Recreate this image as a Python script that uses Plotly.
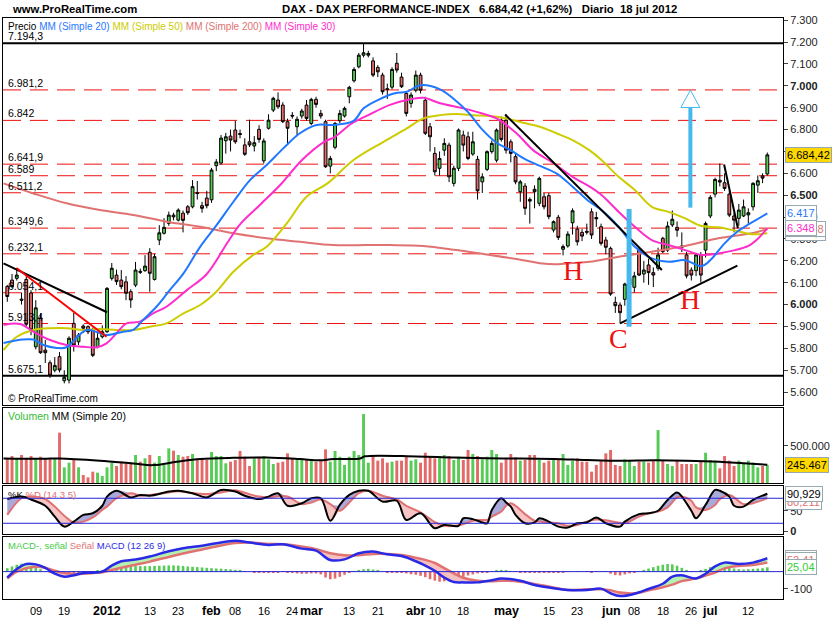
import plotly.graph_objects as go
from plotly.subplots import make_subplots

FONT = "Liberation Sans, Arial, sans-serif"
GREEN = "#56cc56"
RED = "#e46a6a"
CYAN = "#45b9ee"

# --- eje de tiempo (dias de negociacion 01 dic 2011 .. 18 jul 2012) ---
tick_pos = [6, 12, 21, 30, 36, 43, 48, 54, 60, 64, 72, 78, 86, 90, 96,
            105, 114, 120, 127, 132, 138, 144, 148, 156]
tick_text = ["09", "19", "<b>2012</b>", "13", "23", "<b>feb</b>", "08", "16", "24",
             "<b>mar</b>", "13", "21", "<b>abr</b>", "10", "18", "<b>may</b>", "15",
             "23", "<b>jun</b>", "08", "18", "26", "<b>jul</b>", "12"]

# --- precios DAX diarios ---
opens = [6083, 6112, 6120, 6025, 6115, 6053, 5807, 5939, 5792, 5734,
         5700, 5762, 5652, 5655, 5914, 5830, 5902, 5899, 5884, 5807,
         5853, 5876, 6120, 6135, 6112, 6104, 6059, 6089, 6152, 6155,
         6239, 6115, 6295, 6326, 6371, 6409, 6386, 6418, 6447, 6447,
         6512, 6452, 6487, 6479, 6635, 6647, 6749, 6770, 6798, 6782,
         6730, 6744, 6725, 6801, 6657, 6806, 6889, 6935, 6912, 6836,
         6865, 6813, 6862, 6912, 6828, 6938, 6874, 6836, 6633, 6719,
         6840, 6862, 6950, 7023, 7087, 7140, 7140, 7114, 7084, 7049,
         6987, 6994, 7103, 7040, 6965, 6920, 6980, 7049, 6934, 6813,
         6691, 6623, 6706, 6729, 6554, 6623, 6775, 6767, 6688, 6664,
         6561, 6618, 6699, 6660, 6843, 6843, 6744, 6676, 6516, 6542,
         6481, 6527, 6463, 6493, 6498, 6341, 6399, 6253, 6268, 6374,
         6345, 6330, 6335, 6424, 6398, 6356, 6295, 6257, 6010, 5998,
         6024, 6090, 6079, 6249, 6140, 6181, 6146, 6166, 6303, 6249,
         6364, 6353, 6268, 6227, 6158, 6155, 6227, 6249, 6405, 6505,
         6568, 6557, 6505, 6405, 6394, 6405, 6410, 6447, 6546, 6588,
         6597]
highs = [6090, 6140, 6168, 6055, 6135, 6066, 6020, 5960, 5838, 5745,
         5760, 5783, 5700, 5855, 5963, 5870, 5910, 5905, 5895, 5870,
         5905, 6080, 6190, 6160, 6158, 6130, 6070, 6195, 6165, 6226,
         6258, 6232, 6363, 6395, 6425, 6420, 6440, 6430, 6455, 6569,
         6565, 6470, 6520, 6625, 6665, 6775, 6785, 6800, 6840, 6800,
         6760, 6845, 6770, 6820, 6760, 6870, 6950, 6970, 6925, 6850,
         6880, 6860, 6895, 6935, 6945, 6950, 6890, 6845, 6680, 6835,
         6890, 6905, 7000, 7085, 7150, 7194, 7160, 7130, 7095, 7060,
         7010, 7085, 7150, 7060, 6975, 6970, 7070, 7060, 6950, 6830,
         6720, 6700, 6760, 6740, 6635, 6805, 6795, 6790, 6790, 6680,
         6600, 6705, 6750, 6805, 6860, 6870, 6755, 6690, 6570, 6555,
         6490, 6545, 6585, 6510, 6510, 6385, 6410, 6275, 6335, 6440,
         6360, 6345, 6370, 6440, 6424, 6370, 6310, 6265, 6036, 6010,
         6100, 6160, 6150, 6260, 6200, 6210, 6170, 6260, 6310, 6380,
         6430, 6380, 6330, 6240, 6170, 6235, 6240, 6380, 6500, 6580,
         6645, 6600, 6520, 6420, 6460, 6480, 6440, 6560, 6590, 6600,
         6695]
lows = [6013, 6075, 6110, 6000, 5900, 5860, 5795, 5775, 5733, 5665,
        5690, 5690, 5640, 5640, 5785, 5815, 5870, 5865, 5760, 5800,
        5845, 5870, 6110, 6090, 6070, 6020, 5985, 6080, 6140, 6150,
        6059, 6110, 6272, 6320, 6360, 6385, 6380, 6330, 6410, 6440,
        6480, 6420, 6440, 6465, 6610, 6640, 6690, 6700, 6735, 6760,
        6680, 6720, 6700, 6740, 6645, 6800, 6880, 6895, 6830, 6730,
        6850, 6770, 6850, 6840, 6820, 6900, 6850, 6625, 6600, 6710,
        6830, 6855, 6920, 7015, 7080, 7130, 7130, 7040, 7040, 6960,
        6940, 6985, 7060, 6990, 6860, 6900, 6970, 6965, 6775, 6700,
        6590, 6590, 6680, 6560, 6540, 6610, 6700, 6660, 6680, 6480,
        6510, 6610, 6690, 6650, 6745, 6690, 6650, 6550, 6470, 6410,
        6370, 6440, 6450, 6435, 6390, 6330, 6295, 6225, 6260, 6320,
        6270, 6290, 6320, 6300, 6355, 6270, 6230, 6040, 5962, 5914,
        5995, 6080, 6055, 6130, 6100, 6090, 6080, 6155, 6235, 6240,
        6355, 6310, 6240, 6120, 6110, 6130, 6100, 6215, 6395, 6490,
        6540, 6520, 6400, 6330, 6360, 6400, 6370, 6430, 6510, 6555,
        6590]
closes = [6037, 6082, 6135, 6020, 5910, 5884, 5985, 5780, 5780, 5677,
          5722, 5701, 5668, 5846, 5815, 5861, 5892, 5876, 5768, 5846,
          5876, 6074, 6166, 6105, 6082, 6052, 6021, 6158, 6148, 6176,
          6143, 6219, 6328, 6353, 6409, 6401, 6432, 6385, 6420, 6539,
          6508, 6440, 6452, 6615, 6652, 6761, 6767, 6752, 6744, 6778,
          6687, 6730, 6740, 6755, 6748, 6843, 6943, 6904, 6836, 6806,
          6862, 6847, 6885, 6851, 6938, 6915, 6862, 6630, 6668, 6828,
          6874, 6897, 6993, 7075, 7140, 7151, 7148, 7049, 7064, 6973,
          6983, 7075, 7072, 6996, 6874, 6958, 7049, 6980, 6783, 6767,
          6607, 6668, 6737, 6584, 6623, 6798, 6729, 6668, 6744, 6520,
          6584, 6699, 6737, 6798, 6755, 6706, 6691, 6561, 6561, 6440,
          6473, 6516, 6577, 6447, 6402, 6379, 6307, 6265, 6322, 6429,
          6287, 6313, 6331, 6318, 6392, 6280, 6262, 6048, 5995, 5963,
          6094, 6120, 6131, 6135, 6158, 6146, 6135, 6227, 6242, 6359,
          6390, 6340, 6262, 6131, 6135, 6227, 6135, 6371, 6490, 6572,
          6560, 6531, 6409, 6386, 6432, 6447, 6420, 6554, 6566, 6578,
          6684.42]

# --- volumen (miles) ---
volumes = [331, 362, 331, 376, 331, 362, 331, 353, 331, 331,
           331, 676, 210, 273, 309, 210, 107, 76, 152, 139,
           94, 210, 273, 228, 286, 264, 264, 376, 286, 331,
           376, 273, 362, 242, 465, 434, 376, 353, 362, 389,
           318, 331, 309, 416, 362, 362, 264, 286, 309, 430,
           353, 228, 331, 353, 362, 318, 255, 273, 286, 398,
           331, 318, 331, 318, 300, 286, 295, 452, 286, 430,
           353, 242, 353, 430, 376, 926, 273, 353, 300, 331,
           273, 286, 300, 300, 353, 300, 318, 273, 407, 353,
           331, 353, 376, 362, 309, 353, 309, 443, 389, 362,
           318, 353, 443, 389, 273, 318, 389, 345, 300, 309,
           376, 376, 309, 273, 300, 331, 318, 389, 242, 300,
           331, 286, 286, 152, 242, 300, 398, 443, 242, 228,
           318, 300, 228, 286, 286, 273, 300, 711, 300, 255,
           228, 300, 255, 255, 255, 255, 300, 407, 309, 300,
           197, 362, 300, 228, 300, 255, 300, 273, 210, 228,
           242]
vol_ma_x = [-0.8, 7.6, 11, 19.5, 26.5, 30.7, 35.7, 40.6, 47.6, 54.6, 61.6, 65.8,
            68.6, 74.3, 75.3, 86.2, 93.9, 104.4, 115, 122, 129, 136, 143, 150, 155, 160]
vol_ma = [330, 325, 330, 300, 262, 240, 285, 322, 338, 342, 322, 305,
          322, 330, 358, 356, 342, 330, 322, 308, 298, 305, 300, 285, 265, 245.467]

# --- medias moviles sobre el precio ---
ma20_x = [-0.8, 3, 5.5, 7.6, 10.4, 12.5, 14.6, 16.7, 18.8, 20.9, 24.4, 26.5, 28.6,
          31.4, 34.2, 37.1, 40.6, 44.1, 47.6, 51.1, 54.6, 58.1, 61.6, 65.1, 68.6,
          72.9, 75, 78, 81.6, 84.1, 87, 91, 94, 97, 100, 103, 106, 109, 112, 115.6,
          119, 122.6, 125.1, 128.7, 132.1, 135.7, 139.2, 142.7, 146.2, 148.3, 151,
          153.8, 156.4, 160]
ma20 = [5824, 5840, 5840, 5815, 5802, 5805, 5850, 5884, 5875, 5861, 5876, 5884, 5930,
        5990, 6066, 6143, 6264, 6364, 6470, 6569, 6638, 6714, 6783, 6821, 6821,
        6840, 6897, 6935, 6966, 6973, 7003, 6985, 6940, 6880, 6800, 6740, 6705, 6665,
        6635, 6600, 6539, 6470, 6432, 6356, 6264, 6211, 6196, 6203, 6176, 6210, 6280,
        6335, 6371, 6417]
ma30_x = [-0.8, 2.7, 5.5, 9, 12.5, 16, 18.8, 20.9, 23, 25.1, 27.9, 30.7, 33.5, 37.8,
          42, 46.4, 49, 53.4, 57.6, 62, 66.7, 69, 72.5, 76, 80.4, 84.1, 87.6, 91.1,
          96, 98.8, 103, 107.2, 110.7, 115, 119, 122.6, 125.1, 128.7, 132.1, 135.7,
          139.2, 142.7, 146.2, 149.7, 153.2, 156, 158.1, 160]
ma30 = [5907, 5911, 5876, 5838, 5815, 5807, 5805, 5823, 5869, 5914, 5922, 5960, 5990,
        6066, 6140, 6285, 6367, 6460, 6550, 6660, 6744, 6767, 6828, 6866, 6912, 6935,
        6945, 6920, 6897, 6881, 6851, 6783, 6706, 6646, 6584, 6539, 6501, 6424, 6356,
        6295, 6272, 6249, 6227, 6234, 6249, 6268, 6303, 6348]
ma50_x = [-0.8, 2, 5.5, 9, 12.5, 16, 19.5, 23, 26.5, 30, 33.5, 37.1, 40.6, 44, 47.6,
          51.8, 54.6, 58.8, 63, 67.4, 72.9, 79.2, 84.1, 87.6, 91.1, 94.6, 98.1, 101.6,
          105.1, 108.6, 112.1, 115.6, 119, 122.6, 125.1, 128.7, 132.1, 135.7, 139.2,
          142.7, 146.2, 149.7, 153.2, 156.7, 160]
ma50 = [5792, 5853, 5884, 5892, 5892, 5884, 5888, 5884, 5884, 5899, 5914, 5960, 5998,
        6059, 6150, 6227, 6264, 6370, 6493, 6554, 6661, 6744, 6805, 6851, 6866, 6871,
        6866, 6862, 6851, 6831, 6813, 6783, 6752, 6705, 6661, 6584, 6524, 6447, 6424,
        6394, 6359, 6353, 6338, 6322, 6326]
ma200_x = [-0.8, 5.5, 12.5, 19.5, 26.5, 33.5, 40.6, 47.6, 54.6, 61.6, 68.6, 75.7,
           80.6, 87.6, 94.6, 101.6, 108.6, 112.1, 115.6, 119, 122.6, 128.7, 135.7,
           142.7, 149.7, 156.7, 160]
ma200 = [6554, 6508, 6463, 6432, 6410, 6379, 6356, 6326, 6303, 6287, 6272, 6272,
         6272, 6268, 6249, 6227, 6203, 6189, 6184, 6190, 6196, 6219, 6242, 6268,
         6303, 6326, 6345.8]

# --- niveles horizontales ---
red_levels = [6981.2, 6842, 6641.9, 6589, 6511.2, 6349.6, 6232.1, 6054.1, 5913.4]
black_levels = [7194.3, 5675.1]

# lineas de tendencia: (dia0, precio0, dia1, precio1, color)
trend_lines = [(-0.8, 6188, 21.0, 5965, "black"),
               (2.0, 6166, 20.9, 5853, "red"),
               (104.8, 6869, 137.8, 6158, "black"),
               (129.0, 5914, 153.7, 6178, "black"),
               (150.9, 6640, 153.8, 6349, "black")]
marks = [(119, 6158, "H"), (143.7, 6025, "H"), (128.6, 5847, "C")]
cyan_bar = (130.9, 5899, 6437)
cyan_arrow = (143.8, 6443, 6901, 6980, 2.0)

# --- estocastico (14 3 5) ---
stoch_x = [0, 3, 5, 8, 10, 12, 14, 16, 18, 20, 21, 23, 26, 28, 30, 34, 36, 39, 42, 45,
           48, 50, 53, 55, 57, 59, 62, 64, 66, 68, 70, 72, 74, 76, 79, 82, 84, 87, 90,
           92, 95, 96, 98, 100, 101, 102, 104, 105, 106, 107, 109, 111, 112, 114, 116,
           118, 120, 122, 124, 126, 129, 130, 133, 135, 137, 139, 141, 142, 144, 145,
           147, 149, 150, 152, 153, 155, 157, 160]
stoch_k = [78, 84, 77, 62, 36, 12, 24, 40, 44, 62, 84, 98, 82, 88, 86, 96, 98, 92, 82, 100,
           96, 86, 78, 84, 92, 62, 68, 80, 80, 26, 64, 88, 98, 98, 72, 74, 28, 44, 8,
           16, 14, 32, 30, 22, 20, 52, 80, 70, 60, 40, 20, 22, 32, 24, 12,
           10, 20, 22, 34, 20, 12, 24, 42, 44, 50, 76, 94, 84, 50, 32,
           64, 100, 98, 84, 62, 60, 76, 90.929]
stoch_d = [40, 80, 84, 78, 60, 38, 22, 24, 34, 52, 60, 80, 92, 86, 88, 94, 97, 92, 90, 94,
           99, 93, 84, 82, 85, 84, 66, 70, 77, 66, 50, 70, 92, 98, 86, 77, 62, 46, 23,
           14, 15, 18, 26, 28, 28, 36, 48, 62, 68, 62, 42, 26, 24, 22, 20,
           14, 16, 24, 29, 27, 21, 20, 36, 44, 48, 58, 82, 84, 74, 58,
           52, 64, 78, 88, 82, 66, 68, 80.211]

# --- MACD (12 26 9) ---
macd_x = [0, 2, 4, 6, 8, 10, 12, 14, 16, 18, 20, 22, 24, 27, 30, 34, 37, 41, 44, 48,
          51, 55, 58, 62, 65, 68, 71, 74, 77, 80, 83, 86, 88, 90, 92, 94, 96, 99, 102,
          104, 108, 111, 115, 118, 122, 125, 127, 129, 132, 135, 138, 140, 142, 145,
          147, 149, 151, 154, 157, 160]
macd_line = [-35, 15, 44, 42, 22, -12, -29, -21, -8, -6, 0, 35, 60, 70, 87, 118, 135,
             150, 164, 178, 168, 154, 158, 133, 121, 67, 71, 106, 116, 100, 90, 60, 35,
             5, -35, -60, -62, -62, -50, -40, -53, -77, -96, -106, -106, -98, -125,
             -141, -128, -100, -70, -29, -21, -39, -12, 30, 52, 44, 52, 77.45]
macd_signal = [-40, 0, 20, 28, 22, 5, -8, -13, -12, -8, -3, 10, 22, 40, 58, 85, 105,
               128, 145, 165, 168, 160, 158, 145, 130, 106, 94, 95, 102, 102, 96, 80,
               68, 50, 20, -10, -35, -52, -56, -52, -58, -71, -91, -106, -102, -102,
               -108, -121, -125, -108, -90, -75, -55, -39, -22, -5, 19, 33, 39, 52.41]
macd_hist = [20, 30, 40, 46, 44, 36, 26, 14, 2, -8, -14, -18,
             -20, -14, -8, -4, -2, 0, 3, 5, 8,
             15, 22, 25, 28, 30, 32, 32, 32, 32,
             32, 33, 34, 35, 36, 36, 35, 33, 30, 28, 26,
             24, 22, 20, 18, 17, 15, 13, 10, 6, 2,
             0, -3, -6, -8, -8, -6, -3, -1,
             -5, -8, -10, -12, -12, -10, -10, -16, -34,
             -44, -40, -30, -18, -8, 2,
             10, 14, 16, 12, 6, 0, -3,
             -4, -5, -6, -10, -15, -18, -24,
             -32, -44, -52, -58, -56, -50, -44, -38,
             -30, -22, -16, -10, -6, -3, 2, 8, 10,
             6, 2, -2, -6, -8, -8,
             -8, -8, -6, -6, -5, -5, -3, -2,
             0, 2, 0, -2, -3, -2, 3, 2,
             -12, -20, -22, -16, -10, -4, 2,
             10, 18, 26, 34, 40, 44, 42, 34,
             22, 10, 2, 0, 6, 16, 26,
             32, 34, 30, 24, 18, 14, 12,
             14, 16, 18, 20, 25.04]

days = list(range(len(closes)))
x_range = [-0.9, 163.3]


def es_num(v, dec):
    s = f"{v:,.{dec}f}"
    return s.replace(",", "X").replace(".", ",").replace("X", ".")


def level_text(v):
    return es_num(v, 0) if float(v).is_integer() else es_num(v, 1)


fig = make_subplots(rows=4, cols=1, shared_xaxes=True, vertical_spacing=0.01)

# niveles
for lv in red_levels:
    fig.add_shape(type="line", xref="x domain", yref="y", x0=0, x1=1, y0=lv, y1=lv,
                  line=dict(color="#ee1111", width=1, dash="18px,9px"), layer="below")
for lv in black_levels:
    fig.add_shape(type="line", xref="x domain", yref="y", x0=0, x1=1, y0=lv, y1=lv,
                  line=dict(color="black", width=2), layer="below")
for lv in red_levels + black_levels:
    fig.add_annotation(xref="x domain", yref="y", x=0, y=lv, xanchor="left", yanchor="bottom",
                       xshift=3, yshift=-1, text=level_text(lv), showarrow=False,
                       font=dict(family=FONT, size=10.5, color="black"))

fig.add_trace(go.Candlestick(x=days, open=opens, high=highs, low=lows, close=closes,
                             increasing=dict(line=dict(color="black", width=1), fillcolor=GREEN),
                             decreasing=dict(line=dict(color="black", width=1), fillcolor=RED),
                             whiskerwidth=0, showlegend=False, hoverinfo="skip"), row=1, col=1)

for xs, ys, col in [(ma200_x, ma200, "#e07272"), (ma50_x, ma50, "#cccc00"),
                    (ma30_x, ma30, "#ff2ccc"), (ma20_x, ma20, "#1f78ff")]:
    fig.add_trace(go.Scatter(x=xs, y=ys, mode="lines", line=dict(color=col, width=2, shape="spline"),
                             showlegend=False, hoverinfo="skip"), row=1, col=1)

for x0, y0, x1, y1, col in trend_lines:
    fig.add_trace(go.Scatter(x=[x0, x1], y=[y0, y1], mode="lines", line=dict(color=col, width=2),
                             showlegend=False, hoverinfo="skip"), row=1, col=1)

bx, by0, by1 = cyan_bar
fig.add_trace(go.Scatter(x=[bx, bx], y=[by0, by1], mode="lines", line=dict(color=CYAN, width=5),
                         showlegend=False, hoverinfo="skip"), row=1, col=1)
ax, ay0, ay1, atip, ahw = cyan_arrow
fig.add_trace(go.Scatter(x=[ax, ax], y=[ay0, ay1], mode="lines", line=dict(color=CYAN, width=4),
                         showlegend=False, hoverinfo="skip"), row=1, col=1)
fig.add_trace(go.Scatter(x=[ax - ahw, ax, ax + ahw, ax - ahw], y=[ay1, atip, ay1, ay1],
                         mode="lines", fill="toself", fillcolor="white",
                         line=dict(color=CYAN, width=1), showlegend=False, hoverinfo="skip"),
              row=1, col=1)

for mx, my, t in marks:
    fig.add_annotation(x=mx, y=my, xref="x", yref="y", text=t, showarrow=False,
                       font=dict(family="Liberation Serif, Times New Roman, serif", size=28,
                                 color="#ee1111"))

# volumen
vol_colors = [GREEN if c >= o else RED for o, c in zip(opens, closes)]
fig.add_trace(go.Bar(x=days, y=volumes, marker=dict(color=vol_colors, line=dict(width=0)),
                     width=0.62, showlegend=False, hoverinfo="skip"), row=2, col=1)
fig.add_trace(go.Scatter(x=vol_ma_x, y=vol_ma, mode="lines",
                         line=dict(color="black", width=2, shape="spline"),
                         showlegend=False, hoverinfo="skip"), row=2, col=1)

# estocastico
k_hi = [max(k, d) for k, d in zip(stoch_k, stoch_d)]
k_lo = [min(k, d) for k, d in zip(stoch_k, stoch_d)]
for lv in (20, 80):
    fig.add_shape(type="line", xref="x3 domain", yref="y3", x0=0, x1=1, y0=lv, y1=lv,
                  line=dict(color="#2323d8", width=1))
for band, col in [(k_hi, "#a9a9dc"), (k_lo, "#f6c4c4")]:
    fig.add_trace(go.Scatter(x=stoch_x, y=stoch_d, mode="lines", line=dict(width=0, shape="spline"),
                             showlegend=False, hoverinfo="skip"), row=3, col=1)
    fig.add_trace(go.Scatter(x=stoch_x, y=band, mode="lines", fill="tonexty", fillcolor=col,
                             line=dict(width=0, shape="spline"), showlegend=False,
                             hoverinfo="skip"), row=3, col=1)
fig.add_trace(go.Scatter(x=stoch_x, y=stoch_d, mode="lines",
                         line=dict(color="#e07272", width=2, shape="spline"),
                         showlegend=False, hoverinfo="skip"), row=3, col=1)
fig.add_trace(go.Scatter(x=stoch_x, y=stoch_k, mode="lines",
                         line=dict(color="black", width=2, shape="spline"),
                         showlegend=False, hoverinfo="skip"), row=3, col=1)

# MACD
fig.add_shape(type="line", xref="x4 domain", yref="y4", x0=0, x1=1, y0=0, y1=0,
              line=dict(color="#2323d8", width=1))
hist_colors = [GREEN if h >= 0 else RED for h in macd_hist]
fig.add_trace(go.Bar(x=days, y=macd_hist, marker=dict(color=hist_colors, line=dict(width=0)),
                     width=0.55, showlegend=False, hoverinfo="skip"), row=4, col=1)
m_hi = [max(m, s) for m, s in zip(macd_line, macd_signal)]
m_lo = [min(m, s) for m, s in zip(macd_line, macd_signal)]
for band, col in [(m_hi, "#b6f0b0"), (m_lo, "#f6c0c0")]:
    fig.add_trace(go.Scatter(x=macd_x, y=macd_signal, mode="lines",
                             line=dict(width=0, shape="spline"),
                             showlegend=False, hoverinfo="skip"), row=4, col=1)
    fig.add_trace(go.Scatter(x=macd_x, y=band, mode="lines", fill="tonexty", fillcolor=col,
                             line=dict(width=0, shape="spline"), showlegend=False,
                             hoverinfo="skip"), row=4, col=1)
fig.add_trace(go.Scatter(x=macd_x, y=macd_signal, mode="lines",
                         line=dict(color="#e07272", width=2.5, shape="spline"),
                         showlegend=False, hoverinfo="skip"), row=4, col=1)
fig.add_trace(go.Scatter(x=macd_x, y=macd_line, mode="lines",
                         line=dict(color="#2a2ae6", width=2.5, shape="spline"),
                         showlegend=False, hoverinfo="skip"), row=4, col=1)

# ejes
axis_line = dict(showline=True, mirror=True, linecolor="black", linewidth=1,
                 showgrid=False, zeroline=False, automargin=False)
fig.update_xaxes(range=x_range, ticks="", showticklabels=False,
                 rangeslider_visible=False, **axis_line)
fig.update_yaxes(side="right", ticks="outside", ticklen=4, tickcolor="#444",
                 tickfont=dict(family=FONT, size=11, color="#222"), **axis_line)

price_ticks = list(range(5600, 7301, 100))
price_text = [("<b>%s</b>" % es_num(p, 0)) if p % 500 == 0 else es_num(p, 0)
              for p in price_ticks]
fig.update_yaxes(range=[5541, 7310], tickvals=price_ticks, ticktext=price_text, row=1, col=1)
fig.update_yaxes(range=[0, 1007], tickvals=[500], ticktext=["500.000"], row=2, col=1)
fig.update_yaxes(range=[-5.7, 109.4], tickvals=[0, 50], ticktext=["<b>0</b>", "50"], row=3, col=1)
fig.update_yaxes(range=[-158, 200], tickvals=[-100], ticktext=["-100"], row=4, col=1)

# etiquetas de fecha bajo el panel MACD
for tp, tt in zip(tick_pos, tick_text):
    fig.add_annotation(xref="x4", yref="paper", x=tp, y=-0.0207, yanchor="middle",
                       text=tt, showarrow=False,
                       font=dict(family=FONT, size=12.5 if "<b>" in tt else 11, color="black"))

fig.update_layout(
    width=835, height=620,
    margin=dict(l=3, r=52, t=18, b=21, autoexpand=False),
    paper_bgcolor="white", plot_bgcolor="white",
    barmode="overlay", showlegend=False, boxgap=0.15,
    font=dict(family=FONT, size=11, color="black"),
    yaxis=dict(domain=[0.3339, 1.0]),
    yaxis2=dict(domain=[0.1997, 0.3287]),
    yaxis3=dict(domain=[0.1119, 0.1945]),
    yaxis4=dict(domain=[0.0, 0.1067]),
)


# etiquetas de valores a la derecha
def value_box(text, y, yref, color, bg="white"):
    fig.add_annotation(xref="paper", x=1, xanchor="left", xshift=2, yref=yref, y=y,
                       text=text, showarrow=False, bgcolor=bg, bordercolor="#98a8b0",
                       borderwidth=1, borderpad=1, font=dict(family=FONT, size=11, color=color))


value_box(es_num(ma50[-1], 1), ma50[-1], "y", "#cccc00")
value_box(es_num(ma200[-1], 1), ma200[-1], "y", "#e07272")
value_box(es_num(ma30[-1], 0), ma30[-1], "y", "#ff2ccc")
value_box(es_num(ma20[-1], 0), ma20[-1], "y", "#1f78ff")
value_box(es_num(closes[-1], 2), closes[-1], "y", "black", bg="#ffd800")
value_box(es_num(vol_ma[-1] * 1000, 0), vol_ma[-1], "y2", "black", bg="#ffd800")
value_box(es_num(stoch_d[-1], 3), stoch_d[-1] - 8, "y3", "#e07272")
value_box(es_num(stoch_k[-1], 3), stoch_k[-1], "y3", "black")
value_box(es_num(macd_line[-1], 2), macd_line[-1], "y4", "#2a2ae6")
value_box(es_num(macd_signal[-1], 2), macd_signal[-1] + 12, "y4", "#e07272")
value_box(es_num(macd_hist[-1], 2), macd_hist[-1], "y4", "#33cc33")

# textos de cabecera y leyendas
fig.add_annotation(xref="paper", yref="paper", x=0.009, y=1.0155, xanchor="left",
                   yanchor="middle", text="<b>www.ProRealTime.com</b>", showarrow=False,
                   font=dict(family=FONT, size=11.3, color="black"))
fig.add_annotation(xref="paper", yref="paper", x=0.355, y=1.0155, xanchor="left",
                   yanchor="middle",
                   text="<b>DAX - DAX PERFORMANCE-INDEX   6.684,42 (+1,62%)   Diario  18 jul 2012</b>",
                   showarrow=False, font=dict(family=FONT, size=11.3, color="black"))
legends = [
    ("y domain", 0.979, 10, "Precio <span style='color:#1f78ff'>MM (Simple 20)</span> "
                            "<span style='color:#cccc00'>MM (Simple 50)</span> "
                            "<span style='color:#e07272'>MM (Simple 200)</span> "
                            "<span style='color:#ff2ccc'>MM (Simple 30)</span>"),
    ("y domain", 0.016, 10, "© ProRealTime.com"),
    ("y2 domain", 0.89, 10.5, "<span style='color:#33bb33'>Volumen</span> MM (Simple 20)"),
    ("y3 domain", 0.83, 9.5, "%K <span style='color:#e07272'>%D (14 3 5)</span>"),
    ("y4 domain", 0.87, 9.5, "<span style='color:#44cc44'>MACD-, señal</span> "
                             "<span style='color:#e07272'>Señal</span> "
                             "<span style='color:#2a2ae6'>MACD (12 26 9)</span>"),
]
for yref, yy, fs, txt in legends:
    fig.add_annotation(xref="paper", x=0.004, xanchor="left", yref=yref, y=yy,
                       yanchor="middle", text=txt, showarrow=False,
                       font=dict(family=FONT, size=fs, color="black"))

# la pagina no debe dejar el margen por defecto del navegador
fig.write_html("out.html", config={"displayModeBar": False},
               post_script="document.body.style.margin='0';document.body.style.overflow='hidden';")
